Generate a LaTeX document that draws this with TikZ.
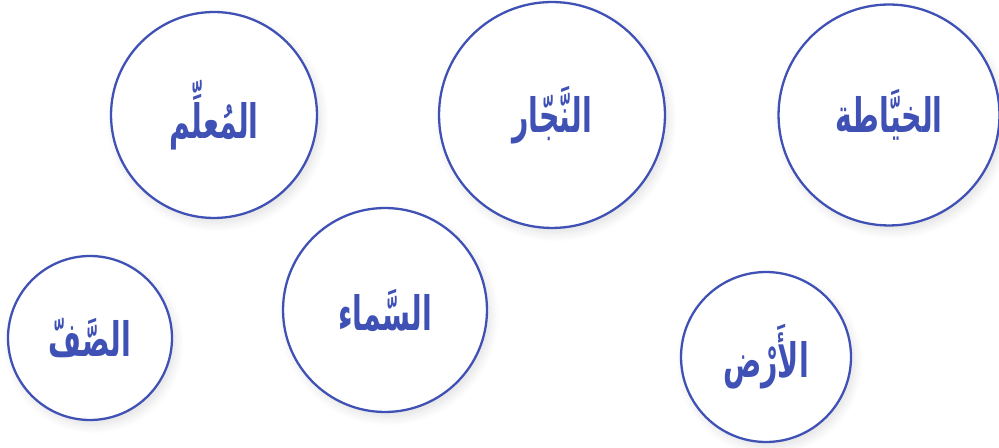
\documentclass[tikz,border=0pt]{standalone}
\usepackage{fontspec}
\usepackage{graphicx}
\newfontfamily\arabicfont[Script=Arabic]{DejaVu Sans}
\TeXXeTstate=1
\usetikzlibrary{shadows.blur}
\definecolor{ink}{HTML}{3F51B5}
\newcommand{\arword}[1]{\scalebox{0.6}[1]{\beginR #1\endR}}
\begin{document}
\begin{tikzpicture}[x=0.02cm,y=-0.02cm,
  word/.style={circle,draw=ink,line width=1.3pt,fill=white,text=ink,
    font=\arabicfont\bfseries\fontsize{27}{32}\selectfont,
    blur shadow={shadow xshift=2pt,shadow yshift=-3pt,shadow blur steps=10,shadow blur radius=5pt,shadow opacity=12}}]
\useasboundingbox (0,0) rectangle (999,448);

\node[word,minimum size=4.12cm] (mualim) at (214,115) {\arword{المُعلِّم}};
\node[word,minimum size=4.52cm] (najjar) at (552,115) {\arword{النَّجّار}};
\node[word,minimum size=4.42cm] (khayata) at (889,115) {\arword{الخيَّاطة}};

\node[word,minimum size=4.08cm] (samaa) at (385,310) {\arword{السَّماء}};
\node[word,minimum size=3.28cm] (saff) at (90,338) {\arword{الصَّفّ}};
\node[word,minimum size=3.40cm] (ard) at (766,357) {\arword{الأَرْض}};
\end{tikzpicture}
\end{document}
